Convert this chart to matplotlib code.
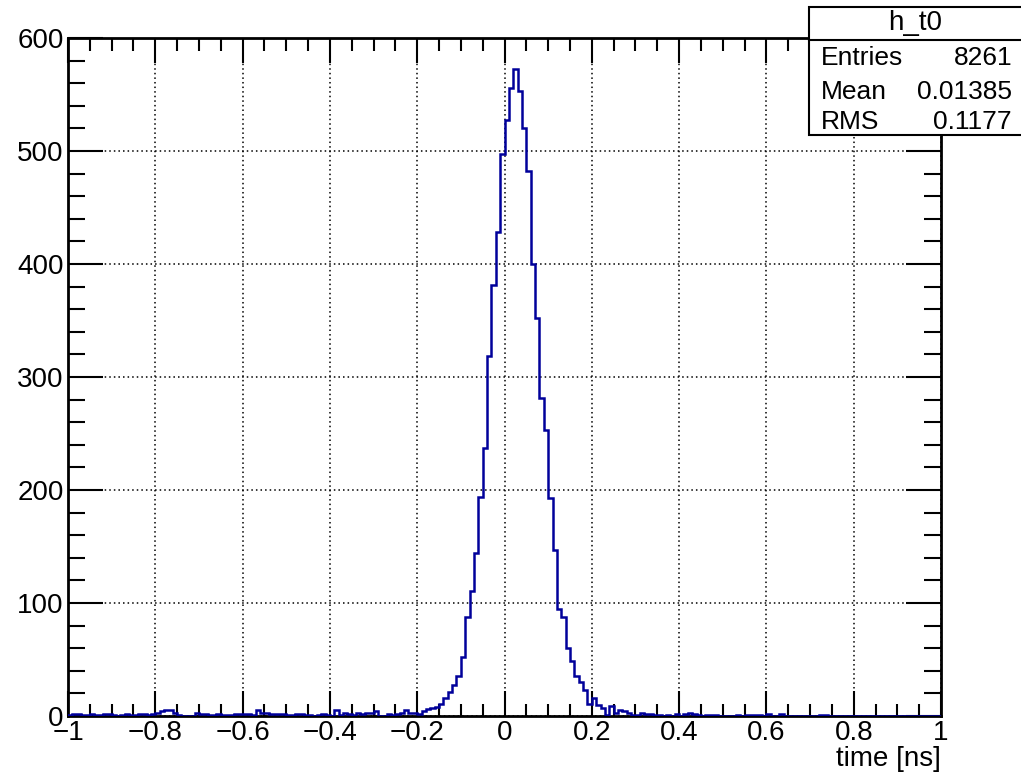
import numpy as np
import matplotlib
matplotlib.use("Agg")
import matplotlib.pyplot as plt
from matplotlib.patches import Rectangle
from matplotlib.ticker import MultipleLocator

plt.rcParams["font.family"] = ["Liberation Sans", "DejaVu Sans"]

# histogram h_t0: 200 bins from -1 to 1 ns
x_min, x_max, n_bins = -1.0, 1.0, 200

# counts, bins -1.00 .. -0.41
tail_far_left = [1, 2, 2, 1, 1, 2, 1, 1, 2, 2,
                 1, 0, 1, 2, 1, 1, 2, 2, 1, 2,
                 3, 4, 5, 5, 3, 1, 0, 0, 0, 3,
                 2, 2, 1, 1, 2, 1, 1, 1, 2, 2,
                 2, 2, 1, 5, 3, 3, 2, 2, 2, 2,
                 1, 1, 2, 2, 1, 1, 0, 1, 2, 1]
# bins -0.40 .. -0.21
tail_left = [0, 5, 1, 3, 2, 1, 3, 2, 3, 3,
             4, 0, 0, 2, 1, 2, 3, 5, 3, 3]
# bins -0.20 .. 0.19
core = [2, 4, 6, 7, 8, 11, 16, 21, 27, 35,
        52, 88, 111, 144, 194, 237, 319, 381, 428, 497,
        527, 556, 573, 553, 520, 482, 400, 352, 281, 253,
        193, 147, 95, 88, 60, 49, 35, 30, 23, 11]
# bins 0.20 .. 0.99
tail_right = [16, 10, 7, 1, 9, 3, 5, 4, 3, 1,
              1, 3, 2, 2, 1, 1, 0, 1, 0, 2,
              0, 2, 3, 2, 1, 0, 1, 1, 1, 0,
              0, 0, 0, 1, 0, 1, 1, 1, 1, 0,
              2, 0, 0, 2, 0, 0, 0, 0, 0, 0,
              0, 0, 1, 1, 0, 0, 0, 0, 0, 0,
              0, 0, 0, 0, 0, 0, 0, 0, 0, 0,
              0, 0, 0, 0, 0, 0, 0, 0, 0, 0]

stats_name = "h_t0"
stats_labels = ["Entries", "Mean", "RMS"]
stats_values = ["8261", "0.01385", "0.1177"]

counts = np.array(tail_far_left + tail_left + core + tail_right, dtype=float)
edges = np.linspace(x_min, x_max, n_bins + 1)

W, H = 1021, 777
FS = 20
fig = plt.figure(figsize=(W / 100, H / 100), dpi=100)
ax = fig.add_axes([68 / W, 1 - 716 / H, (941 - 68) / W, (716 - 38) / H])

ax.stairs(counts, edges, color="#00009a", lw=1.8, zorder=3)

ax.set_xlim(x_min, x_max)
ax.set_ylim(0, 600)
ax.xaxis.set_major_locator(MultipleLocator(0.2))
ax.xaxis.set_minor_locator(MultipleLocator(0.05))
ax.yaxis.set_major_locator(MultipleLocator(100))
ax.yaxis.set_minor_locator(MultipleLocator(20))

ax.grid(True, which="major", color="black", lw=1.1, ls=(0, (1, 2)))
ax.set_axisbelow(True)

ax.tick_params(axis="x", which="both", direction="in", top=True, bottom=True,
               labelsize=FS, pad=3, width=1.5)
ax.tick_params(axis="x", which="major", length=18)
ax.tick_params(axis="x", which="minor", length=9)
ax.tick_params(axis="y", which="both", direction="in", left=True, right=True,
               labelsize=FS, pad=3, width=1.5)
ax.tick_params(axis="y", which="major", length=25)
ax.tick_params(axis="y", which="minor", length=12)

ax.set_xticks(np.round(np.arange(-1, 1.01, 0.2), 1))
ax.set_xticklabels(["\u22121", "\u22120.8", "\u22120.6", "\u22120.4", "\u22120.2",
                    "0", "0.2", "0.4", "0.6", "0.8", "1"])
for s in ax.spines.values():
    s.set_linewidth(2)

ax.set_xlabel("time [ns]", fontsize=FS, loc="right", labelpad=0)

# stats box (ROOT style), cut at the right edge
bx0, by_top, by_div, by_bot = 809, 7, 40, 135
fig.patches.append(Rectangle((bx0 / W, 1 - by_bot / H), (W + 10 - bx0) / W,
                             (by_bot - by_top) / H, transform=fig.transFigure,
                             facecolor="white", edgecolor="black", lw=1.5,
                             zorder=5, clip_on=False))
fig.lines.append(plt.Line2D([bx0 / W, 1.0], [1 - by_div / H] * 2,
                            transform=fig.transFigure, color="black", lw=1.5,
                            zorder=6))
fig.text(915 / W, 1 - 23 / H, stats_name, fontsize=FS, ha="center",
         va="center", zorder=7)
for row_y, lab, val in zip([58, 92, 122], stats_labels, stats_values):
    fig.text(821 / W, 1 - row_y / H, lab, fontsize=FS - 1, ha="left",
             va="center", zorder=7)
    fig.text(1012 / W, 1 - row_y / H, val, fontsize=FS - 1, ha="right",
             va="center", zorder=7)

fig.savefig("out.png", dpi=100)
